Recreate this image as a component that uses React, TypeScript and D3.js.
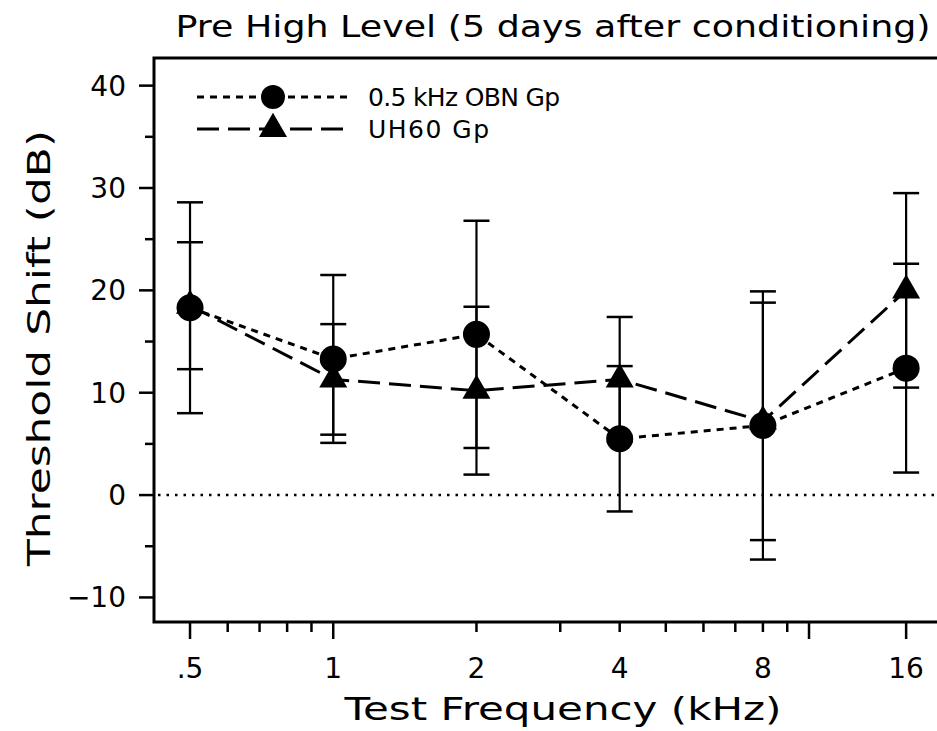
import React, { useEffect, useRef } from 'react';
import * as d3 from 'd3';

// test frequencies (kHz)
const freqs = [0.5, 1, 2, 4, 8, 16];

// 0.5 kHz OBN group
const obnMean = [18.3, 13.3, 15.7, 5.5, 6.8, 12.4];
const obnErr = [10.3, 8.2, 11.1, 7.1, 13.1, 10.2];

// UH60 group
const uhMean = [18.5, 11.3, 10.2, 11.3, 7.2, 20.0];
const uhErr = [6.2, 5.4, 8.2, 6.1, 11.6, 9.5];

const xLabels = ['.5', '1', '2', '4', '8', '16'];
const xMajor = [0.5, 1, 10, 16];
const xMinor = [0.6, 0.7, 0.8, 0.9, 2, 3, 4, 5, 6, 7, 8, 9];
const yMajor = [-10, 0, 10, 20, 30, 40];
const yMinor = [-5, 5, 15, 25, 35];

const FONT = 'DejaVu Sans, sans-serif';

const App: React.FC = () => {
  const ref = useRef<SVGSVGElement>(null);

  useEffect(() => {
    const svg = d3.select(ref.current);
    svg.selectAll('*').remove();

    const left = 154, top = 58, bottom = 622, right = 947;

    const x = d3.scaleLog().domain([0.42, 19.5]).range([left, right]);
    const y = d3.scaleLinear().domain([-12.4, 42.7]).range([bottom, top]);

    // title
    svg.append('text')
      .attr('x', 553).attr('y', 37)
      .attr('text-anchor', 'middle')
      .attr('font-family', FONT).attr('font-size', 31)
      .attr('textLength', 755).attr('lengthAdjust', 'spacingAndGlyphs')
      .text('Pre High Level (5 days after conditioning)');

    // zero reference line
    svg.append('line')
      .attr('x1', left + 4).attr('x2', right)
      .attr('y1', y(0)).attr('y2', y(0))
      .attr('stroke', '#000').attr('stroke-width', 2.5)
      .attr('stroke-dasharray', '2.5 6');

    // spines
    svg.append('path')
      .attr('d', `M${right},${top}H${left}V${bottom}H${right}`)
      .attr('fill', 'none').attr('stroke', '#000').attr('stroke-width', 3);

    // y ticks
    svg.selectAll('line.ymaj').data(yMajor).enter().append('line')
      .attr('x1', left - 15).attr('x2', left)
      .attr('y1', d => y(d)).attr('y2', d => y(d))
      .attr('stroke', '#000').attr('stroke-width', 2.5);
    svg.selectAll('line.ymin').data(yMinor).enter().append('line')
      .attr('x1', left - 9).attr('x2', left)
      .attr('y1', d => y(d)).attr('y2', d => y(d))
      .attr('stroke', '#000').attr('stroke-width', 2.5);
    svg.selectAll('text.ylab').data(yMajor).enter().append('text')
      .attr('x', left - 28).attr('y', d => y(d) + 10)
      .attr('text-anchor', 'end')
      .attr('font-family', FONT).attr('font-size', 28)
      .text(d => (d < 0 ? '\u2212' + Math.abs(d) : String(d)));

    // x ticks
    svg.selectAll('line.xmaj').data(xMajor).enter().append('line')
      .attr('x1', d => x(d)).attr('x2', d => x(d))
      .attr('y1', bottom).attr('y2', bottom + 17)
      .attr('stroke', '#000').attr('stroke-width', 2.5);
    svg.selectAll('line.xmin').data(xMinor).enter().append('line')
      .attr('x1', d => x(d)).attr('x2', d => x(d))
      .attr('y1', bottom).attr('y2', bottom + 10)
      .attr('stroke', '#000').attr('stroke-width', 2.5);
    svg.selectAll('text.xlab').data(freqs).enter().append('text')
      .attr('x', d => x(d)).attr('y', bottom + 56)
      .attr('text-anchor', 'middle')
      .attr('font-family', FONT).attr('font-size', 28)
      .text((d, i) => xLabels[i]);

    // axis titles
    svg.append('text')
      .attr('x', 563).attr('y', 720)
      .attr('text-anchor', 'middle')
      .attr('font-family', FONT).attr('font-size', 32)
      .attr('textLength', 437).attr('lengthAdjust', 'spacingAndGlyphs')
      .text('Test Frequency (kHz)');
    svg.append('text')
      .attr('transform', 'translate(50,348) rotate(-90)')
      .attr('text-anchor', 'middle')
      .attr('font-family', FONT).attr('font-size', 32)
      .attr('textLength', 436).attr('lengthAdjust', 'spacingAndGlyphs')
      .text('Threshold Shift (dB)');

    const errBars = (mean: number[], err: number[]) => {
      freqs.forEach((f, i) => {
        const cx = x(f);
        const hi = y(mean[i] + err[i]);
        const lo = y(mean[i] - err[i]);
        svg.append('line')
          .attr('x1', cx).attr('x2', cx).attr('y1', hi).attr('y2', lo)
          .attr('stroke', '#000').attr('stroke-width', 2.2);
        [hi, lo].forEach(yy => {
          svg.append('line')
            .attr('x1', cx - 13).attr('x2', cx + 13).attr('y1', yy).attr('y2', yy)
            .attr('stroke', '#000').attr('stroke-width', 2.5);
        });
      });
    };
    errBars(obnMean, obnErr);
    errBars(uhMean, uhErr);

    const line = d3.line<number>()
      .x((d, i) => x(freqs[i]))
      .y(d => y(d));

    svg.append('path')
      .attr('d', line(uhMean))
      .attr('fill', 'none').attr('stroke', '#000').attr('stroke-width', 3)
      .attr('stroke-dasharray', '22 9');
    svg.append('path')
      .attr('d', line(obnMean))
      .attr('fill', 'none').attr('stroke', '#000').attr('stroke-width', 3)
      .attr('stroke-dasharray', '7 6');

    const tri = d3.symbol().type(d3.symbolTriangle).size(340);

    svg.selectAll('path.tri').data(uhMean).enter().append('path')
      .attr('d', tri)
      .attr('transform', (d, i) => `translate(${x(freqs[i])},${y(d)})`)
      .attr('fill', '#000');
    svg.selectAll('circle.obn').data(obnMean).enter().append('circle')
      .attr('cx', (d, i) => x(freqs[i])).attr('cy', d => y(d))
      .attr('r', 13.5).attr('fill', '#000');

    // legend
    const lx1 = 197, lx2 = 350, lm = 273;
    svg.append('line')
      .attr('x1', lx1).attr('x2', lx2).attr('y1', 97).attr('y2', 97)
      .attr('stroke', '#000').attr('stroke-width', 3).attr('stroke-dasharray', '7 6');
    svg.append('circle').attr('cx', lm).attr('cy', 97).attr('r', 12).attr('fill', '#000');
    svg.append('line')
      .attr('x1', lx1).attr('x2', lx2).attr('y1', 129).attr('y2', 129)
      .attr('stroke', '#000').attr('stroke-width', 3).attr('stroke-dasharray', '22 9');
    svg.append('path').attr('d', tri).attr('transform', `translate(${lm},129)`).attr('fill', '#000');

    svg.append('text')
      .attr('x', 368).attr('y', 106)
      .attr('font-family', FONT).attr('font-size', 25)
      .attr('textLength', 192).attr('lengthAdjust', 'spacing')
      .text('0.5 kHz OBN Gp');
    svg.append('text')
      .attr('x', 368).attr('y', 138)
      .attr('font-family', FONT).attr('font-size', 25)
      .attr('letter-spacing', 1.5)
      .text('UH60 Gp');
  }, []);

  return (
    <svg
      ref={ref}
      width={937}
      height={731}
      style={{ position: 'absolute', left: 0, top: 0, background: '#fff' }}
    />
  );
};

export default App;
